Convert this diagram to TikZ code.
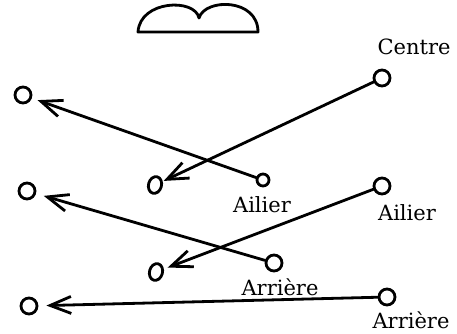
\documentclass[tikz,border=0pt]{standalone}
\usepackage{fontspec}
\setmainfont{DejaVu Serif}
\usetikzlibrary{arrows.meta,shapes.geometric}
\begin{document}
\begin{tikzpicture}[
		x = 1pt,
		y = -1pt,
		line join = round,
		line cap = round,
		line width = 2.8pt,
		> = {Straight Barb[length=21pt,width=17pt]},
		player/.style = {draw, circle, minimum size=16pt, inner sep=0pt},
		smallplayer/.style = {draw, ellipse, minimum width=13pt, minimum height=17pt, inner sep=0pt, rotate=-15},
		poste/.style = {anchor=base, font=\fontsize{21}{24}\selectfont},
		run/.style = {->, shorten >=6pt},
		]
\useasboundingbox (0,0) rectangle (457,334);
% goal
\draw	(138,32) .. controls (140,0) and (195,-2) .. (199,18)
		 .. controls (205,-2) and (258,-2) .. (258,32) -- cycle;
% players
\node[player]	(left1)	at (23,95)	{};
\node[player]	(left2)	at (27,191)	{};
\node[player]	(left3)	at (29,306)	{};
\node[smallplayer]	(mid1)	at (155,185)	{};
\node[smallplayer]	(mid2)	at (156,272)	{};
\node[player]	(centre)	at (382,78)	{};
\node[player, minimum size=12pt]	(ailierA)	at (263,180)	{};
\node[player]	(ailierB)	at (382,186)	{};
\node[player]	(arriereA)	at (274,263)	{};
\node[player]	(arriereB)	at (387,297)	{};
% names
\node[poste]	(lblcentre)	at (414,55)	{Centre};
\node[poste]	(lblailierA)	at (262,212)	{Ailier};
\node[poste]	(lblailierB)	at (407,220)	{Ailier};
\node[poste]	(lblarriereA)	at (280,295)	{Arrière};
\node[poste]	(lblarriereB)	at (411,328)	{Arrière};
% runs
\draw[run]	(ailierA) -- (left1);
\draw[run, shorten >=1pt]	(centre) -- (mid1);
\draw[run, shorten >=8pt]	(arriereA) -- (left2);
\draw[run, shorten >=4pt]	(ailierB) -- (mid2);
\draw[run, shorten >=8pt]	(arriereB) -- (left3);
\end{tikzpicture}
\end{document}
